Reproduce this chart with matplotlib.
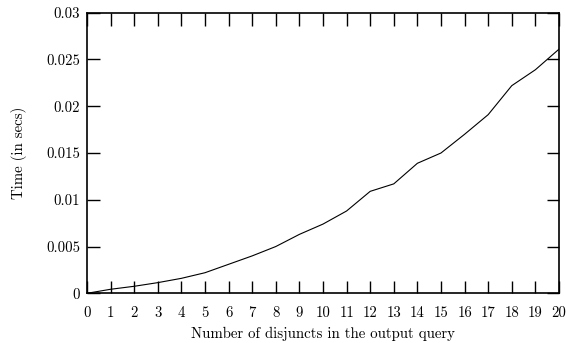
import matplotlib
matplotlib.use("Agg")
import matplotlib.pyplot as plt
from matplotlib.ticker import FuncFormatter

plt.rcParams['font.family'] = ['cmr10', 'DejaVu Serif']
plt.rcParams['axes.formatter.use_mathtext'] = True

disjuncts = list(range(0, 21))
times = [0.0, 0.00043, 0.00075, 0.00114, 0.0016, 0.0022, 0.0031, 0.0040,
         0.0050, 0.0063, 0.0074, 0.0088, 0.0109, 0.0117, 0.0139, 0.0150,
         0.0170, 0.0191, 0.0222, 0.0239, 0.0261]
yticks = [0, 0.005, 0.01, 0.015, 0.02, 0.025, 0.03]

fig = plt.figure(figsize=(5.66, 3.43), dpi=100)
ax = fig.add_axes([0.1537, 0.1449, 0.9876 - 0.1537, 0.963 - 0.1449])
ax.plot(disjuncts, times, color='black', linewidth=0.8)
ax.set_xlim(0, 20)
ax.set_ylim(0, 0.03)
ax.set_xticks(disjuncts)
ax.set_yticks(yticks)
ax.yaxis.set_major_formatter(FuncFormatter(lambda v, p: f"{v:g}"))
ax.xaxis.set_major_formatter(FuncFormatter(lambda v, p: f"{int(v)}"))
ax.tick_params(direction='in', length=9, width=1, top=True, right=True,
               labelsize=10.7, pad=5, colors='black')
ax.tick_params(axis='x', pad=9)
for s in ax.spines.values():
    s.set_linewidth(1.2)
ax.set_xlabel("Number of disjuncts in the output query", fontsize=10.7, labelpad=5)
ax.set_ylabel("Time (in secs)", fontsize=10.7, labelpad=14)
fig.savefig("out.png", dpi=100)
